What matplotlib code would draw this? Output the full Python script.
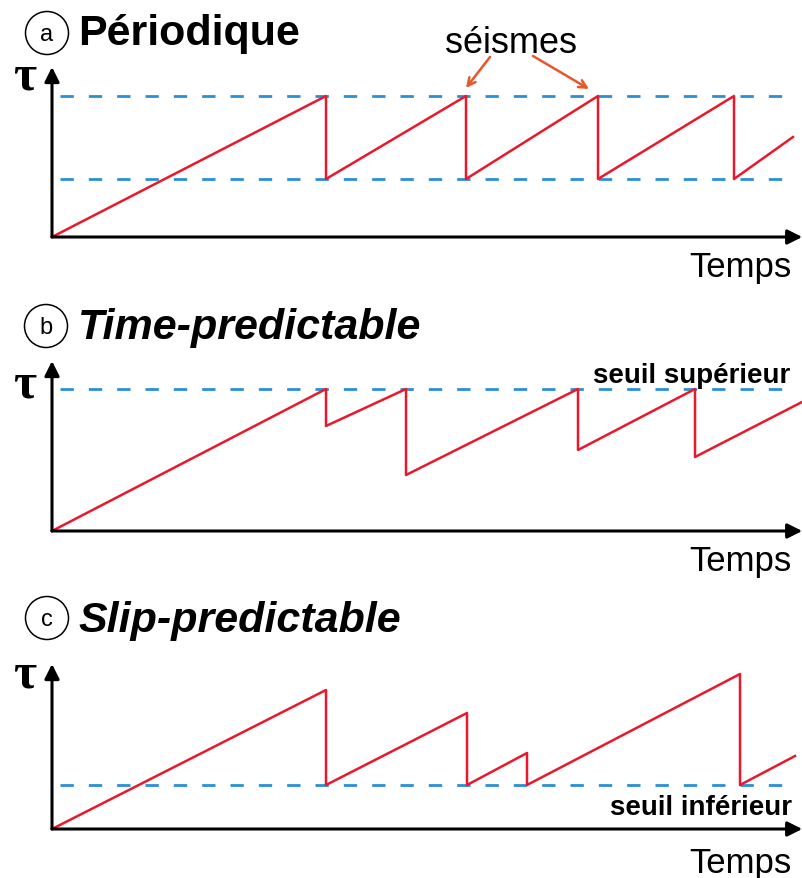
import matplotlib.pyplot as plt
from matplotlib.patches import Circle

# stress (tau) vs time (arbitrary units)
t_a = [0, 274, 274, 414, 414, 546, 546, 682, 682, 741]
tau_a = [0, 141, 58, 141, 58, 141, 58, 141, 58, 100]
seuils_a = [141, 58]

t_b = [0, 274, 274, 354, 354, 526, 526, 643, 643, 750]
tau_b = [0, 142, 105, 142, 56, 142, 81, 142, 74, 129]
seuils_b = [142]

t_c = [0, 274, 274, 415, 415, 475, 475, 688, 688, 743]
tau_c = [0, 139, 44, 116, 44, 76, 44, 155, 44, 73]
seuils_c = [44]

titres = ['Périodique', 'Time-predictable', 'Slip-predictable']
lettres = ['a', 'b', 'c']

RED = '#e8192c'
BLUE = '#2b8fd4'
ORANGE = '#e8562a'

W, H = 802, 879
fig = plt.figure(figsize=(W / 100, H / 100), dpi=100)

# overlay axes in pixel units for the decorations
ov = fig.add_axes([0, 0, 1, 1])
ov.set_xlim(0, W)
ov.set_ylim(H, 0)
ov.axis('off')


def panel(yb, yt, t, tau, seuils):
    ax = fig.add_axes([52 / W, (H - yb) / H, 748 / W, (yb - yt) / H])
    ax.set_xlim(0, 748)
    ax.set_ylim(0, yb - yt)
    ax.axis('off')
    for s in seuils:
        ax.plot([8, 742], [s, s], color=BLUE, lw=2.0, ls=(0, (4.8, 5.4)), zorder=1)
    ax.plot(t, tau, color=RED, lw=1.8, clip_on=False, zorder=2)
    ax.annotate('', xy=(0, 1), xytext=(0, 0), xycoords='axes fraction',
                arrowprops=dict(arrowstyle='-|>', lw=2.2, color='black',
                                mutation_scale=22, shrinkA=0, shrinkB=0))
    ax.annotate('', xy=(1.003, 0), xytext=(0, 0), xycoords='axes fraction',
                arrowprops=dict(arrowstyle='-|>', lw=2.2, color='black',
                                mutation_scale=22, shrinkA=0, shrinkB=0))
    return ax


ax_a = panel(238, 68, t_a, tau_a, seuils_a)
ax_b = panel(532, 362, t_b, tau_b, seuils_b)
ax_c = panel(830, 665, t_c, tau_c, seuils_c)

# titles with circled letters
for (xc, yc, yt, lettre, titre, style) in zip([47, 46, 47], [34, 327, 619],
                                              [45, 339, 632], lettres, titres,
                                              ['normal', 'italic', 'italic']):
    ov.add_patch(Circle((xc, yc), 21.5, fill=False, lw=1.1, ec='black'))
    ov.text(xc, yc + 1, lettre, ha='center', va='center', fontsize=17,
            family='Liberation Sans')
    ov.text(78, yt, titre, ha='left', va='baseline', fontsize=31,
            fontweight='bold', style=style, family='Liberation Sans')

# tau labels and time labels
for yb in [89, 398, 688]:
    ov.text(25, yb, 'τ', ha='center', va='baseline', fontsize=36,
            fontweight='bold', family='Liberation Serif')
for yl in [277, 571, 873]:
    ov.text(791, yl, 'Temps', ha='right', va='baseline', fontsize=25,
            family='Liberation Sans')

ov.text(790, 383, 'seuil supérieur', ha='right', va='baseline', fontsize=20,
        fontweight='bold', family='Liberation Sans')
ov.text(792, 815, 'seuil inférieur', ha='right', va='baseline', fontsize=20,
        fontweight='bold', family='Liberation Sans')

# seismes annotation
ov.text(511, 53, 'séismes', ha='center', va='baseline', fontsize=26,
        family='Liberation Sans')
for x0, y0, x1, y1 in [(490, 58, 466, 89), (533, 57, 589, 90)]:
    ov.annotate('', xy=(x1, y1), xytext=(x0, y0),
                arrowprops=dict(arrowstyle='->', lw=1.8, color=ORANGE,
                                mutation_scale=14, shrinkA=0, shrinkB=0))

fig.savefig('out.png', dpi=100)
